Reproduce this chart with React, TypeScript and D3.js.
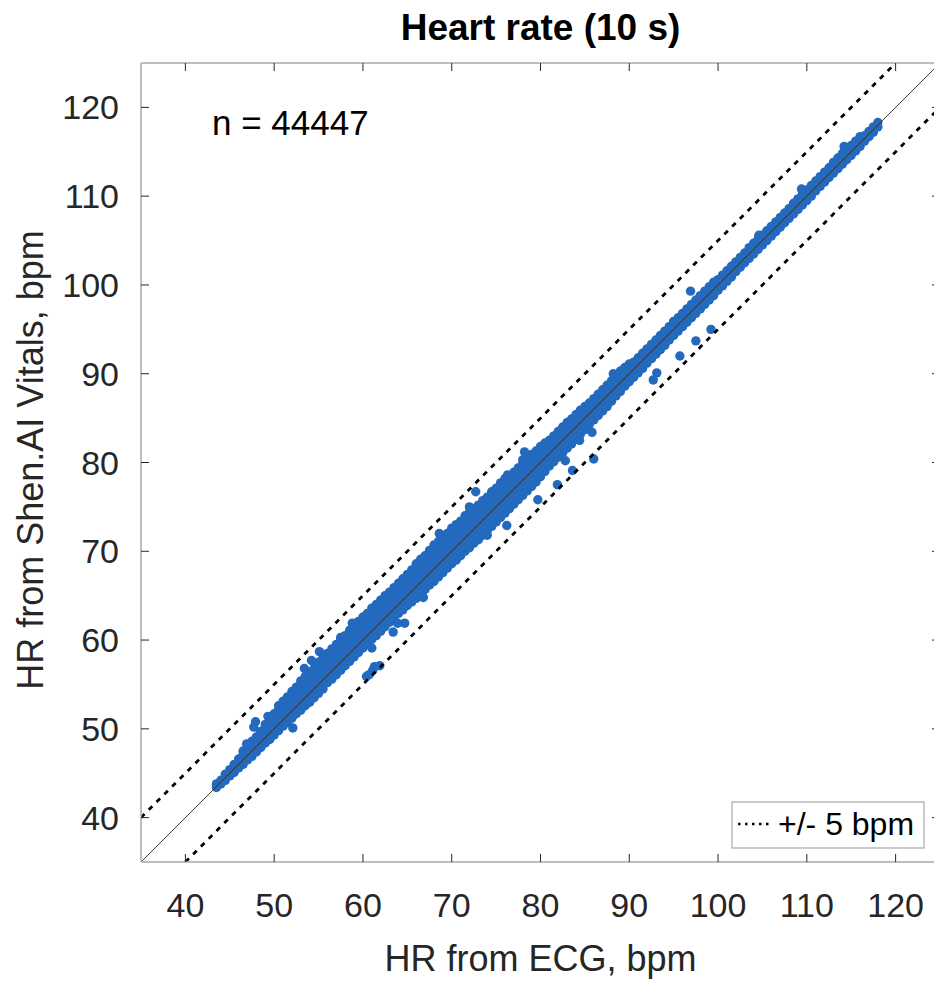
import React, { useEffect, useRef } from "react";
import * as d3 from "d3";

// dense core: each row is an ECG value and the Shen.AI readings stacked at it
const coreRows: [number, number[]][] = [
  [43.5, [43.4, 43.8]],
  [44.0, [43.8, 44.2]],
  [44.5, [44.2, 44.6, 44.9]],
  [45.0, [44.7, 45.1, 45.4]],
  [45.5, [45.1, 45.6, 46.0]],
  [46.0, [45.6, 46.1, 46.6]],
  [46.5, [46.0, 46.6, 47.1, 47.5]],
  [47.0, [46.5, 47.1, 47.6, 48.1]],
  [47.5, [46.9, 47.5, 48.1, 48.6]],
  [48.0, [47.4, 48.0, 48.6, 49.1]],
  [48.5, [47.9, 48.5, 49.1, 49.7]],
  [49.0, [48.4, 49.0, 49.6, 50.2, 50.5]],
  [49.5, [48.8, 49.4, 50.0, 50.6, 51.1]],
  [50.0, [49.3, 49.9, 50.5, 51.1, 51.7]],
  [50.5, [49.8, 50.4, 51.0, 51.6, 52.2, 52.6]],
  [51.0, [50.3, 50.9, 51.5, 52.1, 52.7, 53.1]],
  [51.5, [50.7, 51.3, 51.9, 52.5, 53.1, 53.6]],
  [52.0, [51.2, 51.8, 52.4, 53.0, 53.6, 54.2]],
  [52.5, [51.7, 52.3, 52.9, 53.5, 54.1, 54.7]],
  [53.0, [52.1, 52.7, 53.3, 53.9, 54.5, 55.1, 55.4]],
  [53.5, [52.6, 53.2, 53.8, 54.4, 55.0, 55.6, 55.9]],
  [54.0, [53.0, 53.6, 54.2, 54.8, 55.4, 56.0, 56.4]],
  [54.5, [53.5, 54.1, 54.7, 55.3, 55.9, 56.5, 56.8]],
  [55.0, [54.0, 54.6, 55.2, 55.8, 56.4, 57.0, 57.5]],
  [55.5, [54.5, 55.0, 55.6, 56.2, 56.8, 57.4, 58.0]],
  [56.0, [55.2, 55.8, 56.4, 57.0, 57.6, 58.2, 58.5]],
  [56.5, [55.6, 56.2, 56.8, 57.4, 58.0, 58.6, 59.0]],
  [57.0, [56.1, 56.7, 57.3, 57.9, 58.5, 59.1, 59.5]],
  [57.5, [56.6, 57.2, 57.8, 58.4, 59.0, 59.6, 60.1]],
  [58.0, [57.1, 57.7, 58.3, 58.9, 59.5, 60.1, 60.5]],
  [58.5, [57.6, 58.2, 58.8, 59.4, 60.0, 60.6, 61.1]],
  [59.0, [58.1, 58.7, 59.3, 59.9, 60.5, 61.1, 61.5]],
  [59.5, [58.6, 59.2, 59.8, 60.4, 61.0, 61.6, 62.1]],
  [60.0, [59.1, 59.7, 60.3, 60.9, 61.5, 62.1, 62.6]],
  [60.5, [59.6, 60.2, 60.8, 61.4, 62.0, 62.6, 63.0]],
  [61.0, [60.1, 60.7, 61.3, 61.9, 62.5, 63.1, 63.6]],
  [61.5, [60.5, 61.1, 61.7, 62.3, 62.9, 63.5, 64.0]],
  [62.0, [61.0, 61.6, 62.2, 62.8, 63.4, 64.0, 64.5]],
  [62.5, [61.5, 62.1, 62.7, 63.3, 63.9, 64.5, 65.0]],
  [63.0, [62.0, 62.6, 63.2, 63.8, 64.4, 65.0, 65.4]],
  [63.5, [62.5, 63.1, 63.7, 64.3, 64.9, 65.5, 65.9]],
  [64.0, [63.0, 63.6, 64.2, 64.8, 65.4, 66.0, 66.4]],
  [64.5, [63.4, 64.0, 64.6, 65.2, 65.8, 66.4, 66.9]],
  [65.0, [63.9, 64.5, 65.1, 65.7, 66.3, 66.9, 67.4]],
  [65.5, [64.3, 64.9, 65.5, 66.1, 66.7, 67.3, 67.9]],
  [66.0, [64.7, 65.3, 65.9, 66.5, 67.1, 67.7, 68.3, 68.6]],
  [66.5, [65.2, 65.8, 66.4, 67.0, 67.6, 68.2, 68.8, 69.1]],
  [67.0, [65.7, 66.3, 66.9, 67.5, 68.1, 68.7, 69.3, 69.5]],
  [67.5, [66.2, 66.8, 67.4, 68.0, 68.6, 69.2, 69.8, 70.1]],
  [68.0, [66.6, 67.2, 67.8, 68.4, 69.0, 69.6, 70.2, 70.7]],
  [68.5, [67.1, 67.7, 68.3, 68.9, 69.5, 70.1, 70.7, 71.1]],
  [69.0, [67.6, 68.2, 68.8, 69.4, 70.0, 70.6, 71.2, 71.5]],
  [69.5, [68.1, 68.7, 69.3, 69.9, 70.5, 71.1, 71.7, 72.0]],
  [70.0, [68.6, 69.2, 69.8, 70.4, 71.0, 71.6, 72.2, 72.6]],
  [70.5, [69.0, 69.6, 70.2, 70.8, 71.4, 72.0, 72.6, 73.0]],
  [71.0, [69.5, 70.1, 70.7, 71.3, 71.9, 72.5, 73.1, 73.4]],
  [71.5, [70.0, 70.6, 71.2, 71.8, 72.4, 73.0, 73.6, 74.0]],
  [72.0, [70.4, 71.0, 71.6, 72.2, 72.8, 73.4, 74.0, 74.4]],
  [72.5, [70.9, 71.5, 72.1, 72.7, 73.3, 73.9, 74.5, 74.8]],
  [73.0, [71.3, 71.9, 72.5, 73.1, 73.7, 74.3, 74.9, 75.2]],
  [73.5, [71.8, 72.4, 73.0, 73.6, 74.2, 74.8, 75.4, 75.7]],
  [74.0, [72.3, 72.9, 73.5, 74.1, 74.7, 75.3, 75.9, 76.1]],
  [74.5, [72.8, 73.4, 74.0, 74.6, 75.2, 75.8, 76.4, 76.7]],
  [75.0, [73.3, 73.9, 74.5, 75.1, 75.7, 76.3, 76.9, 77.1]],
  [75.5, [73.8, 74.4, 75.0, 75.6, 76.2, 76.8, 77.4, 77.7]],
  [76.0, [74.3, 74.9, 75.5, 76.1, 76.7, 77.3, 77.9, 78.2]],
  [76.5, [74.8, 75.4, 76.0, 76.6, 77.2, 77.8, 78.4]],
  [77.0, [75.3, 75.9, 76.5, 77.1, 77.7, 78.3, 78.9]],
  [77.5, [75.8, 76.4, 77.0, 77.6, 78.2, 78.8, 79.4]],
  [78.0, [76.3, 76.9, 77.5, 78.1, 78.7, 79.3, 79.9, 80.3]],
  [78.5, [76.8, 77.4, 78.0, 78.6, 79.2, 79.8, 80.4]],
  [79.0, [77.3, 77.9, 78.5, 79.1, 79.7, 80.3, 80.9]],
  [79.5, [77.8, 78.4, 79.0, 79.6, 80.2, 80.8, 81.3]],
  [80.0, [78.4, 79.0, 79.6, 80.2, 80.8, 81.4, 81.8]],
  [80.5, [79.0, 79.6, 80.2, 80.8, 81.4, 81.9, 82.2]],
  [81.0, [79.6, 80.2, 80.8, 81.4, 82.0, 82.5]],
  [81.5, [80.1, 80.7, 81.3, 81.9, 82.5, 83.0]],
  [82.0, [80.6, 81.2, 81.8, 82.4, 83.0, 83.5]],
  [82.5, [81.1, 81.7, 82.3, 82.9, 83.5, 84.0]],
  [83.0, [81.6, 82.2, 82.8, 83.4, 84.0, 84.5]],
  [83.5, [82.1, 82.7, 83.3, 83.9, 84.5, 84.9]],
  [84.0, [82.6, 83.2, 83.8, 84.4, 85.0, 85.4]],
  [84.5, [83.2, 83.8, 84.4, 85.0, 85.6, 85.9]],
  [85.0, [83.7, 84.3, 84.9, 85.5, 86.1, 86.3]],
  [85.5, [84.3, 84.9, 85.5, 86.1, 86.7]],
  [86.0, [84.8, 85.4, 86.0, 86.6, 87.2]],
  [86.5, [85.3, 85.9, 86.5, 87.1, 87.7]],
  [87.0, [85.8, 86.4, 87.0, 87.6, 88.2]],
  [87.5, [86.3, 86.9, 87.5, 88.1, 88.7]],
  [88.0, [86.9, 87.5, 88.1, 88.7, 89.2]],
  [88.5, [87.5, 88.1, 88.7, 89.3, 89.7]],
  [89.0, [88.0, 88.6, 89.2, 89.8, 90.3]],
  [89.5, [88.6, 89.2, 89.8, 90.4, 90.7]],
  [90.0, [89.1, 89.7, 90.3, 90.9, 91.1]],
  [90.5, [89.6, 90.2, 90.8, 91.3]],
  [91.0, [90.1, 90.7, 91.3, 91.8]],
  [91.5, [90.6, 91.2, 91.8, 92.3]],
  [92.0, [91.2, 91.8, 92.4, 92.8]],
  [92.5, [91.7, 92.3, 92.9, 93.3]],
  [93.0, [92.2, 92.8, 93.4, 93.8]],
  [93.5, [92.7, 93.3, 93.9, 94.3]],
  [94.0, [93.2, 93.8, 94.4, 94.8]],
  [94.5, [93.8, 94.4, 95.0, 95.3]],
  [95.0, [94.3, 94.9, 95.5, 95.9]],
  [95.5, [94.8, 95.4, 96.0, 96.3]],
  [96.0, [95.3, 95.9, 96.5, 96.8]],
  [96.5, [95.8, 96.4, 97.0, 97.3]],
  [97.0, [96.3, 96.9, 97.5, 97.8]],
  [97.5, [96.8, 97.4, 98.0, 98.3]],
  [98.0, [97.3, 97.9, 98.5, 98.8]],
  [98.5, [97.8, 98.4, 99.0, 99.3]],
  [99.0, [98.3, 98.9, 99.5, 99.8]],
  [99.5, [98.8, 99.4, 100.0, 100.3]],
  [100.0, [99.4, 100.0, 100.6]],
  [100.5, [99.9, 100.5, 101.1]],
  [101.0, [100.4, 101.0, 101.6]],
  [101.5, [100.9, 101.5, 102.1]],
  [102.0, [101.5, 102.1, 102.6]],
  [102.5, [102.0, 102.6, 103.1]],
  [103.0, [102.5, 103.1, 103.6]],
  [103.5, [103.0, 103.6, 104.2]],
  [104.0, [103.5, 104.1, 104.7]],
  [104.5, [104.0, 104.6, 105.1]],
  [105.0, [104.5, 105.1, 105.6]],
  [105.5, [105.0, 105.6, 106.1]],
  [106.0, [105.5, 106.1, 106.6]],
  [106.5, [106.0, 106.6, 107.1]],
  [107.0, [106.5, 107.1, 107.6]],
  [107.5, [107.0, 107.6, 108.1]],
  [108.0, [107.5, 108.1, 108.6]],
  [108.5, [108.0, 108.6, 109.2]],
  [109.0, [108.5, 109.1, 109.7]],
  [109.5, [109.0, 109.6, 110.2]],
  [110.0, [109.5, 110.1, 110.7]],
  [110.5, [110.0, 110.6, 111.2]],
  [111.0, [110.6, 111.2, 111.7]],
  [111.5, [111.1, 111.7, 112.2]],
  [112.0, [111.6, 112.2, 112.7]],
  [112.5, [112.1, 112.7, 113.2]],
  [113.0, [112.6, 113.2, 113.8]],
  [113.5, [113.1, 113.7, 114.3]],
  [114.0, [113.6, 114.2, 114.8]],
  [114.5, [114.1, 114.7, 115.3]],
  [115.0, [114.6, 115.2, 115.7]],
  [115.5, [115.1, 115.7, 116.2]],
  [116.0, [115.6, 116.2, 116.7]],
  [116.5, [116.2, 116.8]],
  [117.0, [116.7, 117.3]],
  [117.5, [117.2, 117.8]],
  [118.0, [117.8, 118.3]],
];

// stray readings and edge bumps outside the main band
const outlierEcg = [
  47.9, 47.7, 46.9, 49.3, 52.1, 53.4, 54.2, 55.1, 57.5, 57.7, 60.4, 60.7, 61.1, 61.9,
  61.3, 61.0, 63.4, 63.9, 64.7, 68.6, 72.0, 72.7, 74.0, 76.2, 76.3, 78.2, 79.7,
  81.9, 83.6, 82.8, 86.0, 85.8, 84.4, 92.7, 93.1, 95.7, 97.5, 99.2, 96.9, 109.4,
  114.2, 88.2, 104.6, 66.8, 58.8,
];
const outlierShen = [
  50.8, 50.2, 48.3, 51.4, 50.1, 56.8, 57.7, 58.7, 60.3, 60.2, 55.9, 56.1, 56.6, 57.1,
  57.0, 59.1, 60.9, 61.9, 61.9, 72.0, 75.0, 76.7, 71.8, 72.9, 78.6, 81.2, 75.8,
  77.5, 79.1, 80.2, 80.4, 83.4, 82.5, 89.3, 90.1, 92.0, 93.7, 95.0, 99.3, 110.8,
  115.6, 90.0, 105.6, 64.8, 61.9,
];

const domain: [number, number] = [35, 125];
const xTicks = [40, 50, 60, 70, 80, 90, 100, 110, 120];
const yTicks = [40, 50, 60, 70, 80, 90, 100, 110, 120];
const band = 5;
const nLabel = "n = 44447";

const App = () => {
  const ref = useRef<SVGSVGElement>(null);

  useEffect(() => {
    const left = 141;
    const top = 63;
    const size = 799;
    const font = "'Liberation Sans', Arial, Helvetica, sans-serif";
    const axisGray = "#262626";

    const x = d3.scaleLinear().domain(domain).range([left, left + size]);
    const y = d3.scaleLinear().domain(domain).range([top + size, top]);

    const svg = d3.select(ref.current);
    svg.selectAll("*").remove();

    svg
      .append("defs")
      .append("clipPath")
      .attr("id", "plotclip")
      .append("rect")
      .attr("x", left)
      .attr("y", top)
      .attr("width", size)
      .attr("height", size);

    const points = coreRows
      .flatMap(([e, list]) => list.map((s) => ({ ecg: e, shen: s })))
      .concat(outlierEcg.map((e, i) => ({ ecg: e, shen: outlierShen[i] })));

    const plot = svg.append("g").attr("clip-path", "url(#plotclip)");

    plot
      .selectAll("circle")
      .data(points)
      .enter()
      .append("circle")
      .attr("cx", (d) => x(d.ecg))
      .attr("cy", (d) => y(d.shen))
      .attr("r", 4.7)
      .attr("fill", "#2369bd");

    // identity line
    plot
      .append("line")
      .attr("x1", x(domain[0]))
      .attr("y1", y(domain[0]))
      .attr("x2", x(domain[1]))
      .attr("y2", y(domain[1]))
      .attr("stroke", "#2a2a2a")
      .attr("stroke-width", 0.9);

    // +/- 5 bpm limits
    [band, -band].forEach((off) => {
      const x0 = Math.max(domain[0], domain[0] - off);
      const x1 = Math.min(domain[1], domain[1] - off);
      plot
        .append("line")
        .attr("x1", x(x0))
        .attr("y1", y(x0 + off))
        .attr("x2", x(x1))
        .attr("y2", y(x1 + off))
        .attr("stroke", "#000")
        .attr("stroke-width", 2.8)
        .attr("stroke-dasharray", "5,6");
    });

    // frame
    const frame = svg.append("g").attr("stroke", "#a8a8a8").attr("stroke-width", 1.5);
    frame.append("line").attr("x1", left).attr("x2", left + size).attr("y1", top).attr("y2", top);
    frame.append("line").attr("x1", left).attr("x2", left + size).attr("y1", top + size).attr("y2", top + size);
    frame.append("line").attr("x1", left).attr("x2", left).attr("y1", top).attr("y2", top + size);
    frame.append("line").attr("x1", left + size).attr("x2", left + size).attr("y1", top).attr("y2", top + size);

    const ticks = svg.append("g").attr("stroke", axisGray).attr("stroke-width", 1);
    xTicks.forEach((t) => {
      ticks.append("line").attr("x1", x(t)).attr("x2", x(t)).attr("y1", top + size).attr("y2", top + size - 8);
      ticks.append("line").attr("x1", x(t)).attr("x2", x(t)).attr("y1", top).attr("y2", top + 8);
    });
    yTicks.forEach((t) => {
      ticks.append("line").attr("x1", left).attr("x2", left + 8).attr("y1", y(t)).attr("y2", y(t));
      ticks.append("line").attr("x1", left + size).attr("x2", left + size - 8).attr("y1", y(t)).attr("y2", y(t));
    });

    svg
      .append("g")
      .selectAll("text")
      .data(xTicks)
      .enter()
      .append("text")
      .attr("x", (d) => x(d))
      .attr("y", 917)
      .attr("text-anchor", "middle")
      .style("font-family", font)
      .style("font-size", "34px")
      .style("fill", axisGray)
      .text((d) => d);

    svg
      .append("g")
      .selectAll("text")
      .data(yTicks)
      .enter()
      .append("text")
      .attr("x", 119)
      .attr("y", (d) => y(d) + 12)
      .attr("text-anchor", "end")
      .style("font-family", font)
      .style("font-size", "34px")
      .style("fill", axisGray)
      .text((d) => d);

    svg
      .append("text")
      .attr("x", left + size / 2)
      .attr("y", 40)
      .attr("text-anchor", "middle")
      .style("font-family", font)
      .style("font-size", "37px")
      .style("font-weight", "bold")
      .style("fill", "#000")
      .text("Heart rate (10 s)");

    svg
      .append("text")
      .attr("x", left + size / 2)
      .attr("y", 971)
      .attr("text-anchor", "middle")
      .style("font-family", font)
      .style("font-size", "36px")
      .style("fill", axisGray)
      .text("HR from ECG, bpm");

    svg
      .append("text")
      .attr("transform", "translate(43,460) rotate(-90)")
      .attr("text-anchor", "middle")
      .style("font-family", font)
      .style("font-size", "36px")
      .style("fill", axisGray)
      .text("HR from Shen.AI Vitals, bpm");

    svg
      .append("text")
      .attr("x", 212)
      .attr("y", 135)
      .style("font-family", font)
      .style("font-size", "35px")
      .style("fill", "#000")
      .text(nLabel);

    // legend
    const legend = svg.append("g");
    legend
      .append("rect")
      .attr("x", 732)
      .attr("y", 802)
      .attr("width", 192)
      .attr("height", 46)
      .attr("fill", "#fff")
      .attr("stroke", "#a8a8a8")
      .attr("stroke-width", 1.2);
    legend
      .append("line")
      .attr("x1", 738)
      .attr("x2", 773)
      .attr("y1", 824)
      .attr("y2", 824)
      .attr("stroke", "#000")
      .attr("stroke-width", 2.5)
      .attr("stroke-dasharray", "2.5,4.5");
    legend
      .append("text")
      .attr("x", 778)
      .attr("y", 835)
      .style("font-family", font)
      .style("font-size", "32px")
      .style("fill", "#000")
      .text("+/- 5 bpm");
  }, []);

  return (
    <div>
      <svg
        ref={ref}
        width={934}
        height={984}
        style={{ position: "absolute", left: 0, top: 0, background: "#fff" }}
      ></svg>
    </div>
  );
};

export default App;
